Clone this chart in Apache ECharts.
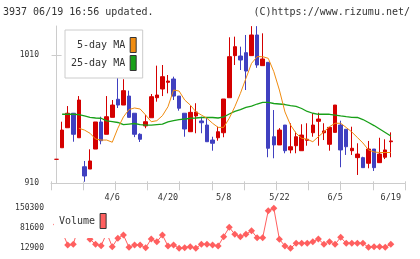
<!DOCTYPE html>
<html><head><meta charset="utf-8">
<script src="https://cdn.jsdelivr.net/npm/echarts@6/dist/echarts.min.js"></script>
<style>html,body{margin:0;padding:0;background:#fff}#c{width:420px;height:259px}</style>
</head><body><div id="c"></div>
<script>
const dates = ['3/23','3/24','3/25','3/26','3/27','3/30','3/31','4/1','4/2','4/3','4/6','4/7','4/8','4/9','4/10','4/13','4/14','4/15','4/16','4/17','4/20','4/21','4/22','4/23','4/24','4/27','4/28','4/30','5/1','5/7','5/8','5/11','5/12','5/13','5/14','5/15','5/18','5/19','5/20','5/21','5/22','5/25','5/26','5/27','5/28','5/29','6/1','6/2','6/3','6/4','6/5','6/8','6/9','6/10','6/11','6/12','6/15','6/16','6/17','6/18','6/19'];
const open  = [928.7,937.7,953.3,964.6,945.5,922.9,921.1,936.7,957.8,948.2,961.4,975.5,971.0,978.0,964.6,948.2,954.7,961.1,976.7,983.5,988.7,991.3,978.0,964.6,950.2,962.5,958.6,955.4,943.7,945.5,949.4,976.7,1009.5,1009.2,1011.8,1009.5,1025.6,1001.7,1004.3,946.3,939.9,955.4,936.0,939.3,935.4,943.5,949.4,958.3,949.4,940.4,949.7,955.4,952.1,935.4,930.0,930.0,925.6,936.7,926.1,930.3,942.4];
const close = [928.7,951.5,964.6,948.2,974.9,915.7,927.4,957.8,943.2,961.9,971.0,971.0,982.2,961.4,948.2,944.3,958.0,977.5,978.8,993.1,989.7,978.0,968.5,952.3,965.3,965.6,957.2,942.4,941.2,950.2,975.7,1008.7,1016.5,1006.1,997.5,1025.6,1002.2,1006.9,937.3,939.9,951.5,935.4,938.5,946.3,947.6,944.3,955.4,960.1,950.8,953.6,971.0,936.0,938.5,937.3,932.8,922.2,936.7,922.2,932.8,936.0,943.0];
const low   = [928.7,937.7,953.3,942.4,945.5,911.2,921.1,936.7,940.4,948.2,961.4,968.7,971.0,961.4,946.0,942.2,952.9,961.1,973.6,978.0,980.1,974.9,966.6,946.3,950.2,949.0,949.0,942.4,935.4,943.2,945.9,976.7,1002.2,998.3,982.7,1009.5,1000.0,1001.7,930.3,929.5,939.9,933.4,933.4,933.4,935.4,939.3,946.3,939.3,943.7,935.4,949.7,922.5,932.1,932.1,916.5,922.2,921.7,919.6,926.1,928.9,930.3];
const high  = [928.7,958.0,970.2,964.6,978.0,927.4,936.5,957.8,961.9,978.0,974.9,992.6,991.1,982.2,964.6,949.0,963.2,979.6,1001.7,1002.2,994.4,993.1,978.0,964.6,970.2,972.4,961.9,961.4,946.3,954.1,975.7,1023.8,1024.3,1016.5,1025.6,1032.5,1032.5,1026.9,1004.3,967.1,953.0,955.4,956.8,950.2,956.0,956.8,964.6,965.0,956.8,953.6,971.0,958.8,952.1,954.1,941.2,930.7,943.0,936.7,945.5,944.3,949.7];
const ma5   = [null,null,null,null,952.9,951.5,949.0,944.5,943.7,943.7,942.0,952.9,961.7,967.5,968.7,967.9,963.2,958.0,958.8,962.7,969.7,982.7,981.9,974.9,971.0,965.8,963.2,960.7,956.8,953.6,953.6,960.7,969.7,980.1,991.8,1003.5,1008.7,1008.7,1007.4,997.0,982.7,965.6,955.4,949.0,945.1,944.3,942.4,946.3,950.2,954.1,956.8,956.8,953.5,950.0,945.7,941.4,936.0,934.4,934.0,934.0,934.0];
const ma25  = [null,963.8,963.8,963.8,963.6,962.5,961.4,960.9,960.7,958.6,958.0,957.4,955.8,956.2,956.6,955.8,955.4,955.4,955.8,956.2,957.8,958.8,959.7,960.1,960.7,960.9,961.3,961.3,961.3,960.9,961.7,964.0,966.0,967.5,969.1,970.2,971.8,973.0,973.0,972.2,971.8,971.4,970.6,969.9,968.3,966.0,964.6,963.8,963.8,963.8,963.2,962.5,961.9,961.4,961.3,959.7,957.4,955.0,952.3,949.6,946.9];
const volume = [95000,70000,24200,27000,90000,80000,43800,26600,21800,65000,18400,47250,58600,16300,24200,24200,15000,44800,35600,58600,20800,24200,12900,15000,18400,13500,26600,26600,24200,20800,53000,85000,61000,53000,61000,73400,49300,49300,142000,150300,43800,20800,12900,30100,30100,30100,35600,44800,26600,35600,26600,50700,30100,30100,30100,30100,16300,18400,18400,16300,26600];
const dateLabelIdx = [10,20,30,40,50,60];
const priceTicks = [910, 1010];
const volTicks = [12900, 81600, 150300];

const FONT = 'DejaVu Sans Mono';
const X_MIN = -1, X_MAX = 62.55;
const tickVals = Array.from({length: 12}, (_, k) => X_MIN + k * (X_MAX - X_MIN) / 11);
const AX = '#cccccc';
const UP = '#d40000', DOWN = '#4040c0';
const plain = v => String(Math.round(v));

const chart = echarts.init(document.getElementById('c'), null, {renderer: 'canvas'});
chart.setOption({
  animation: false,
  backgroundColor: '#fff',
  textStyle: {fontFamily: FONT},
  title: [
    {text: '3937 06/19 16:56 updated.', left: 3, top: 7, padding: 0,
     textStyle: {fontSize: 10, fontWeight: 'normal', color: '#333', fontFamily: FONT}},
    {text: '(C)https://www.rizumu.net/', right: 10, top: 7, padding: 0,
     textStyle: {fontSize: 10, fontWeight: 'normal', color: '#333', fontFamily: FONT}}
  ],
  legend: [
    {orient: 'vertical', align: 'right', left: 65, top: 30, padding: [7, 6, 7, 6], itemGap: 2,
     itemWidth: 6, itemHeight: 15, icon: 'rect', backgroundColor: '#fff', borderColor: '#cccccc', borderWidth: 1,
     textStyle: {fontSize: 10, color: '#333', fontFamily: FONT},
     itemStyle: {borderColor: '#333', borderWidth: 1},
     data: ['5-day MA', '25-day MA'], selectedMode: false, z: 10},
    {orient: 'vertical', align: 'right', left: 54, top: 208, padding: [5, 5, 9, 5],
     itemWidth: 6, itemHeight: 15, icon: 'rect', backgroundColor: '#fff',
     textStyle: {fontSize: 10, color: '#333', fontFamily: FONT},
     itemStyle: {borderColor: '#333', borderWidth: 1},
     data: ['Volume'], selectedMode: false, z: 10}
  ],
  grid: [
    {left: 51, right: 15, top: 26, height: 157.3},
    {left: 51, right: 15, top: 208.3, height: 40}
  ],
  xAxis: [
    {type: 'value', gridIndex: 0, min: X_MIN, max: X_MAX,
     axisLine: {show: true, lineStyle: {color: AX}},
     axisTick: {show: true, customValues: tickVals, length: 7, lineStyle: {color: AX}},
     axisLabel: {customValues: dateLabelIdx, formatter: v => dates[Math.round(v)], fontSize: 8.5, color: '#333', margin: 10, fontFamily: FONT},
     splitLine: {show: false}},
    {type: 'value', gridIndex: 0, min: X_MIN, max: X_MAX, position: 'bottom',
     axisLine: {show: false},
     axisTick: {show: true, inside: true, customValues: tickVals, length: 2, lineStyle: {color: AX}},
     axisLabel: {show: false}, splitLine: {show: false}},
    {type: 'value', gridIndex: 1, min: X_MIN, max: X_MAX, show: false}
  ],
  yAxis: [
    {type: 'value', gridIndex: 0, min: 910, max: 1032.6,
     axisLine: {show: true, lineStyle: {color: AX}},
     axisTick: {show: true, customValues: priceTicks, length: 5, lineStyle: {color: AX}},
     axisLabel: {customValues: priceTicks, formatter: plain, fontSize: 8, color: '#333', margin: 12, fontFamily: FONT},
     splitLine: {show: false}},
    {type: 'value', gridIndex: 0, min: 910, max: 1032.6, position: 'left',
     axisLine: {show: false},
     axisTick: {show: true, inside: true, customValues: priceTicks, length: 5, lineStyle: {color: AX}},
     axisLabel: {show: false}, splitLine: {show: false}},
    {type: 'value', gridIndex: 1, min: 12900, max: 150300,
     axisLine: {show: false}, axisTick: {show: false},
     axisLabel: {customValues: volTicks, formatter: plain, fontSize: 8, color: '#333', margin: 7, fontFamily: FONT},
     splitLine: {show: false}}
  ],
  series: [
    {type: 'candlestick', xAxisIndex: 0, yAxisIndex: 0, barWidth: 4,
     encode: {x: 0, y: [1, 2, 3, 4]},
     data: dates.map((d, i) => [i, open[i], close[i], low[i], high[i]]),
     itemStyle: {color: UP, color0: DOWN, borderColor: UP, borderColor0: DOWN, borderColorDoji: UP, borderWidth: 1}},
    {name: '25-day MA', type: 'line', xAxisIndex: 0, yAxisIndex: 0, symbol: 'none',
     data: ma25.map((v, i) => [i, v]),
     lineStyle: {color: '#18a018', width: 1.3}, itemStyle: {color: '#18a018'}},
    {name: '5-day MA', type: 'line', xAxisIndex: 0, yAxisIndex: 0, symbol: 'none',
     data: ma5.map((v, i) => [i, v]),
     lineStyle: {color: '#f08c10', width: 1}, itemStyle: {color: '#f08c10'}},
    {name: 'Volume', type: 'line', xAxisIndex: 2, yAxisIndex: 2, symbol: 'diamond', symbolSize: 7,
     data: volume.map((v, i) => [i, v]),
     lineStyle: {color: '#ff5f5f', width: 1}, itemStyle: {color: '#ff5f5f'}}
  ]
});
</script></body></html>
